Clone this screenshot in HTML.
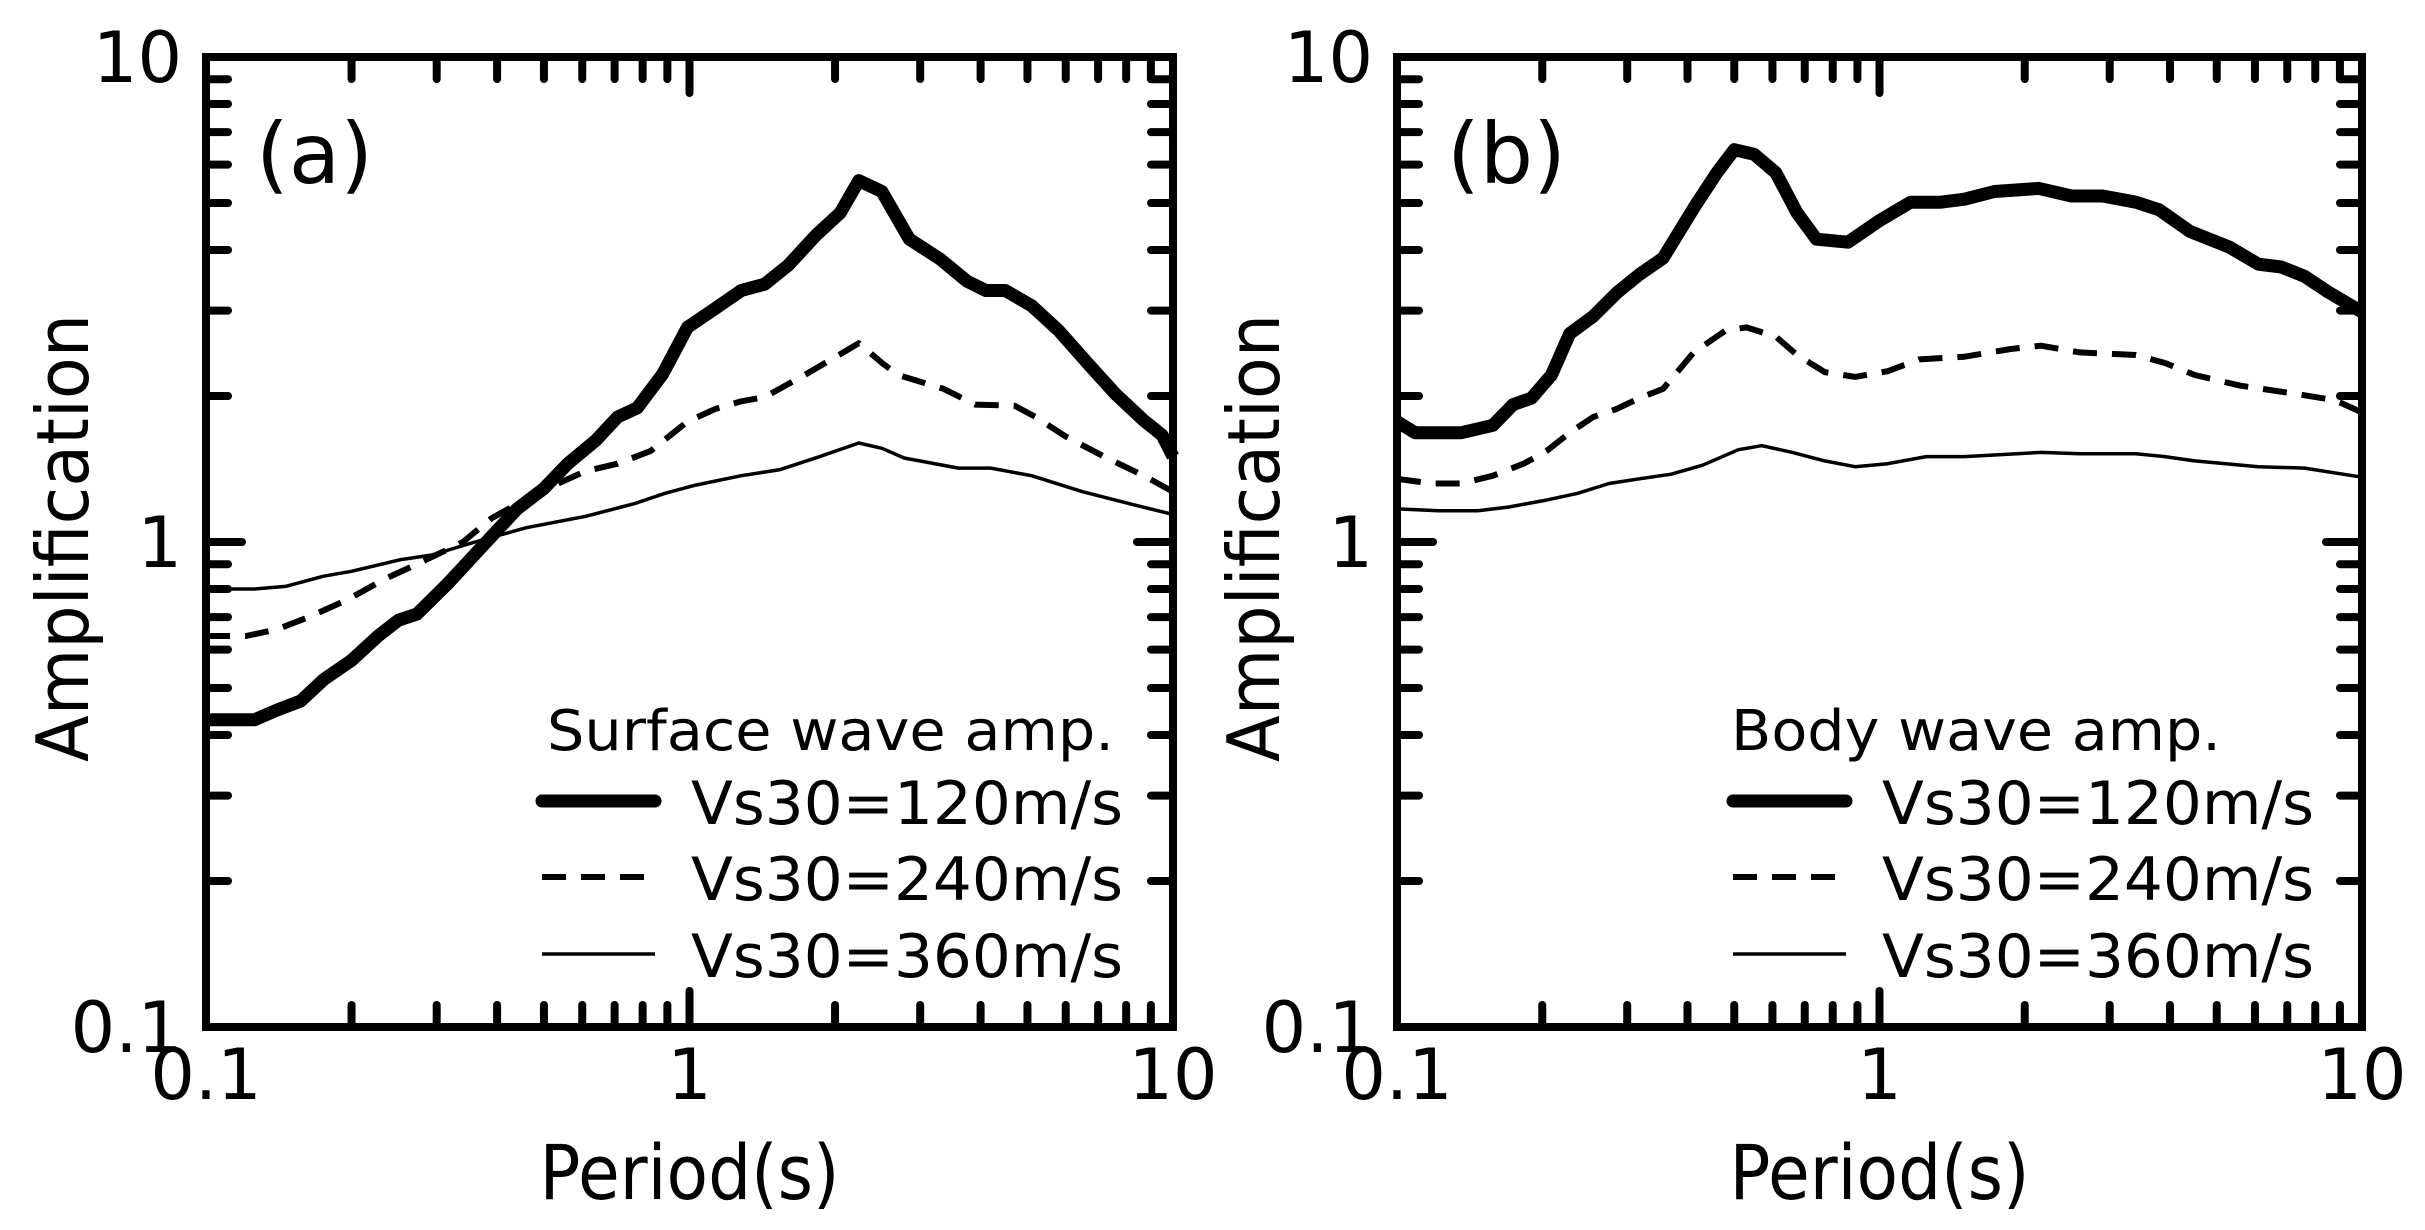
<!DOCTYPE html>
<html><head><meta charset="utf-8"><style>
html,body{margin:0;padding:0;background:#fff;}
svg{display:block;}
text{font-family:"DejaVu Sans","Liberation Sans",sans-serif;fill:#000;}
</style></head><body>
<svg id="chart" width="2425" height="1230" viewBox="0 0 2425 1230" xmlns="http://www.w3.org/2000/svg"></svg>
<script>
// Panel (a) surface wave amplification
const aT120 = [0.1,0.126,0.14,0.157,0.175,0.2,0.227,0.25,0.273,0.316,0.38,0.44,0.5,0.56,0.64,0.71,0.78,0.88,0.99,1.13,1.28,1.43,1.6,1.83,2.05,2.24,2.5,2.85,3.3,3.75,4.1,4.5,5.1,5.8,6.7,7.6,8.7,9.5,10];
const aA120 = [0.43,0.43,0.45,0.47,0.52,0.57,0.64,0.69,0.71,0.82,1.0,1.17,1.29,1.45,1.62,1.81,1.89,2.22,2.77,3.03,3.30,3.40,3.72,4.30,4.77,5.56,5.28,4.21,3.83,3.45,3.30,3.30,3.07,2.73,2.32,2.02,1.78,1.66,1.50];
const aT240 = [0.1,0.121,0.14,0.163,0.196,0.235,0.273,0.34,0.39,0.49,0.61,0.71,0.83,0.99,1.13,1.28,1.43,1.73,2.08,2.24,2.5,2.7,3.35,3.9,4.7,5.2,6.0,7.3,8.7,10];
const aA240 = [0.64,0.64,0.66,0.70,0.76,0.84,0.90,1.0,1.12,1.27,1.40,1.45,1.54,1.77,1.88,1.95,1.99,2.21,2.46,2.57,2.34,2.21,2.07,1.92,1.91,1.81,1.65,1.49,1.37,1.27];
const aT360 = [0.1,0.126,0.146,0.175,0.2,0.253,0.293,0.36,0.46,0.61,0.77,0.89,1.03,1.28,1.54,1.86,2.24,2.5,2.78,3.6,4.2,5.1,6.5,8.4,10];
const aA360 = [0.80,0.80,0.81,0.85,0.87,0.92,0.94,1.0,1.07,1.13,1.20,1.26,1.31,1.37,1.41,1.50,1.60,1.56,1.49,1.42,1.42,1.37,1.27,1.19,1.14];
// Panel (b) body wave amplification
const bT120 = [0.1,0.109,0.136,0.158,0.174,0.19,0.209,0.228,0.255,0.285,0.318,0.356,0.412,0.46,0.5,0.55,0.61,0.675,0.74,0.86,1.0,1.16,1.34,1.5,1.73,2.14,2.5,2.9,3.4,3.8,4.4,5.3,6.1,6.8,7.6,8.5,10];
const bA120 = [1.77,1.68,1.68,1.74,1.92,1.98,2.21,2.69,2.92,3.26,3.56,3.85,4.88,5.77,6.44,6.30,5.77,4.77,4.21,4.15,4.60,5.02,5.02,5.09,5.28,5.36,5.17,5.17,5.02,4.84,4.37,4.06,3.74,3.69,3.53,3.28,2.98];
const bT240 = [0.1,0.118,0.136,0.158,0.183,0.204,0.228,0.255,0.285,0.318,0.356,0.412,0.48,0.53,0.61,0.675,0.77,0.89,1.04,1.21,1.5,1.87,2.16,2.6,3.4,3.9,4.5,5.6,7.3,8.8,10];
const bA240 = [1.35,1.32,1.32,1.37,1.45,1.54,1.68,1.81,1.88,1.98,2.07,2.46,2.73,2.77,2.65,2.43,2.24,2.19,2.25,2.38,2.41,2.50,2.54,2.46,2.43,2.34,2.21,2.10,2.02,1.96,1.85];
const bT360 = [0.1,0.122,0.147,0.17,0.204,0.237,0.275,0.318,0.37,0.43,0.51,0.57,0.66,0.77,0.89,1.04,1.25,1.5,2.16,2.6,3.4,3.9,4.5,6.1,7.6,10];
const bA360 = [1.17,1.16,1.16,1.18,1.22,1.26,1.32,1.35,1.38,1.44,1.55,1.58,1.53,1.47,1.43,1.45,1.50,1.50,1.53,1.52,1.52,1.50,1.47,1.43,1.42,1.36];
const xTickLabels = ["0.1","1","10"];
const yTickLabels = ["0.1","1","10"];

const NS = "http://www.w3.org/2000/svg";
const svg = document.getElementById("chart");
const TOP = 57, BOT = 1027;
function mk(tag, attrs, parent){
  const e = document.createElementNS(NS, tag);
  for (const k in attrs) e.setAttribute(k, attrs[k]);
  (parent||svg).appendChild(e);
  return e;
}
function panel(id, L, R, label, legendTitle, titleX, titleW, series){
  const g = mk("g", {});
  
  
  const xs = t => L + (Math.log10(t) + 1) / 2 * (R - L);
  const ys = a => BOT - (Math.log10(a) + 1) / 2 * (BOT - TOP);
  const tk = mk("g", {stroke:"#000","stroke-width":8,"stroke-linecap":"round"}, g);
  
  
  for (let d = -1; d < 1; d++) {
    for (let m = 1; m <= 9; m++) {
      const v = m * Math.pow(10, d);
      const len = m === 1 ? 36 : 22;
      const x = xs(v), y = ys(v);
      if (m !== 1 || d !== -1) {
        mk("line", {x1:x, y1:BOT, x2:x, y2:BOT-len}, tk);
        mk("line", {x1:x, y1:TOP, x2:x, y2:TOP+len}, tk);
        mk("line", {x1:L, y1:y, x2:L+len, y2:y}, tk);
        mk("line", {x1:R, y1:y, x2:R-len, y2:y}, tk);
      }
    }
  }
  const fr = mk("rect", {x:L, y:TOP, width:R-L, height:BOT-TOP, fill:"none", stroke:"#000", "stroke-width":8}, g);
  
  
  xTickLabels.forEach((s) => {
    const v = parseFloat(s);
    const t = mk("text", {x:xs(v), y:BOT+72, "font-size":70, "text-anchor":"middle"}, g);
    t.textContent = s;
    
    
  });
  yTickLabels.forEach((s) => {
    const v = parseFloat(s);
    const t = mk("text", {x:L-24, y:ys(v)+25, "font-size":70, "text-anchor":"end"}, g);
    t.textContent = s;
    
    
  });
  series.forEach(s => {
    const d = s.t.map((t, i) => (i ? "L" : "M") + xs(t).toFixed(1) + "," + ys(s.a[i]).toFixed(1)).join(" ");
    const p = mk("path", {d:d, fill:"none", stroke:"#000", "stroke-width":s.w, "stroke-linejoin":"round", "stroke-dasharray":s.dash||"none"}, g);
    
    
  });
  const pl = mk("text", {x:L+50, y:183, "font-size":84}, g);
  pl.textContent = label;
  
  
  const xt = mk("text", {x:(L+R)/2, y:1199, "font-size":76, "text-anchor":"middle", textLength:300, lengthAdjust:"spacingAndGlyphs"}, g);
  xt.textContent = "Period(s)";
  
  
  const yx = L - 118, yc = 538;
  const yt = mk("text", {x:yx, y:yc, "font-size":72, "text-anchor":"middle", transform:"rotate(-90 "+yx+" "+yc+")", textLength:448, lengthAdjust:"spacingAndGlyphs"}, g);
  yt.textContent = "Amplification";
  
  
  const lg = mk("g", {}, g);
  
  
  const lt = mk("text", {x:titleX, y:750, "font-size":56, textLength:titleW, lengthAdjust:"spacingAndGlyphs"}, lg);
  lt.textContent = legendTitle;
  
  
  const lx = L + 336;
  const rows = [801, 877, 954];
  series.forEach((s, i) => {
    const ln = mk("line", {x1:lx, y1:rows[i], x2:lx+113, y2:rows[i], stroke:"#000", "stroke-width":s.w, "stroke-dasharray":s.dash||"none", "stroke-linecap":i===0?"round":"butt"}, lg);
    
    
    const tx = mk("text", {x:L+485, y:rows[i]+23, "font-size":60, textLength:432, lengthAdjust:"spacingAndGlyphs"}, lg);
    tx.textContent = s.label;
    
    
  });
}
panel("a", 206, 1173, "(a)", "Surface wave amp.", 547, 567, [
  {name:"vs120", t:aT120, a:aA120, w:13, label:"Vs30=120m/s"},
  {name:"vs240", t:aT240, a:aA240, w:6, dash:"24 15", label:"Vs30=240m/s"},
  {name:"vs360", t:aT360, a:aA360, w:3.5, label:"Vs30=360m/s"}
]);
panel("b", 1397, 2362, "(b)", "Body wave amp.", 1731, 490, [
  {name:"vs120", t:bT120, a:bA120, w:13, label:"Vs30=120m/s"},
  {name:"vs240", t:bT240, a:bA240, w:6, dash:"24 15", label:"Vs30=240m/s"},
  {name:"vs360", t:bT360, a:bA360, w:3.5, label:"Vs30=360m/s"}
]);
</script>
</body></html>
